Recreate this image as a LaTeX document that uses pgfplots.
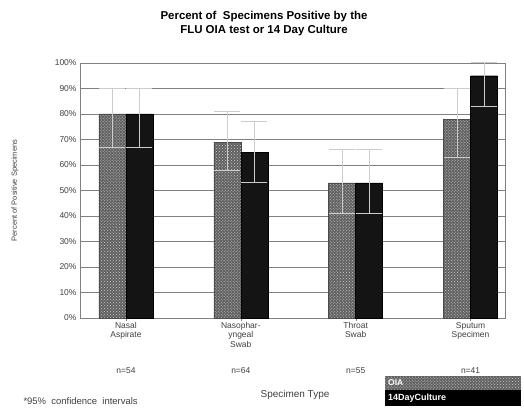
\documentclass[border=0pt]{standalone}
\usepackage{fontspec}
\setmainfont{Liberation Sans}
\usepackage{pgfplots}
\usepackage{pgfplotstable}
\pgfplotsset{compat=1.18}
\usetikzlibrary{patterns}

% OIA test: value, upper error, lower error
\pgfplotstableread{
x  y   ep  em
0  80  10  13
1  69  12  11
2  53  13  12
3  78  12  15
}\oia
% 14 day culture
\pgfplotstableread{
x  y   ep  em
0  80  10  13
1  65  12  12
2  53  13  12
3  95   5  12
}\culture

\definecolor{gridgray}{gray}{0.5}
\definecolor{speck}{gray}{0.38}

\begin{document}
\begin{tikzpicture}
\path[use as bounding box] (-80bp,-92bp) rectangle (444bp,318bp);
\begin{axis}[
    scale only axis,
    width=425bp, height=255bp,
    ymin=0, ymax=100,
    xmin=-0.4, xmax=3.3,
    ytick={0,10,...,100},
    yticklabel={\pgfmathprintnumber{\tick}\%},
    xtick={0,1,2,3},
    xticklabels={Nasal\\Aspirate, Nasophar-\\yngeal\\Swab, Throat\\Swab, Sputum\\Specimen},
    xticklabel style={align=center, font=\fontsize{8.5}{9.5}\selectfont, text=black!75, inner sep=1bp},
    yticklabel style={font=\fontsize{8.5}{10}\selectfont, text=black!75},
    /pgf/number format/assume math mode=true,
    ymajorgrids,
    grid style={gridgray, line width=0.5pt},
    axis line style={gridgray},
    tick style={gridgray},
    major tick length=3bp,
    ytick pos=left, xtick pos=bottom,
    ybar, bar width=27bp,
    ylabel={Percent of Positive Specimens},
    ylabel style={at={(axis description cs:-0.153,0.5)}, anchor=center, font=\fontsize{7.5}{8}\selectfont, text=black!75},
    clip=false,
]
\addplot[bar shift=-13.5bp, draw=black!70, fill=speck,
    postaction={pattern=crosshatch dots, pattern color=white!80!black},
    error bars/.cd, y dir=both, y explicit,
    error bar style={gray!40, line width=1pt},
    error mark options={rotate=90, mark size=13bp, line width=1pt, gray!40}]
    table[x=x, y=y, y error plus=ep, y error minus=em] {\oia};
\addplot[bar shift=13.5bp, draw=black, fill=black!92,
    error bars/.cd, y dir=both, y explicit,
    error bar style={gray!40, line width=1pt},
    error mark options={rotate=90, mark size=13bp, line width=1pt, gray!40}]
    table[x=x, y=y, y error plus=ep, y error minus=em] {\culture};

\foreach \i/\n in {0/54, 1/64, 2/55, 3/41} {
  \edef\tmp{\noexpand\node[font=\noexpand\fontsize{8.5}{9}\noexpand\selectfont, text=black!75] at (axis cs:\i,-20.5) {n=\n};}
  \tmp
}
\end{axis}
% title
\node[align=center, font=\bfseries\fontsize{11.5}{14}\selectfont] at (184bp,294bp)
  {Percent of \ Specimens Positive by the\\FLU OIA test or 14 Day Culture};
% axis title
\node[font=\fontsize{10}{11}\selectfont, text=black!75] at (215bp,-77bp) {Specimen Type};
% footnote
\node[anchor=west, font=\fontsize{9.5}{11}\selectfont, text=black!75] at (-60bp,-83bp) {*95\% \ confidence \ intervals};
% legend
\fill[speck] (305bp,-72bp) rectangle (441bp,-58bp);
\fill[pattern=crosshatch dots, pattern color=white!80!black] (305bp,-72bp) rectangle (441bp,-58bp);
\node[anchor=west, font=\bfseries\fontsize{8.5}{9}\selectfont, text=white, inner sep=1bp] at (307bp,-65bp) {OIA};
\fill[black] (305bp,-88bp) rectangle (441bp,-72bp);
\node[anchor=west, font=\bfseries\fontsize{9}{9}\selectfont, text=white, inner sep=1bp] at (307bp,-80bp) {14DayCulture};
\end{tikzpicture}
\end{document}
